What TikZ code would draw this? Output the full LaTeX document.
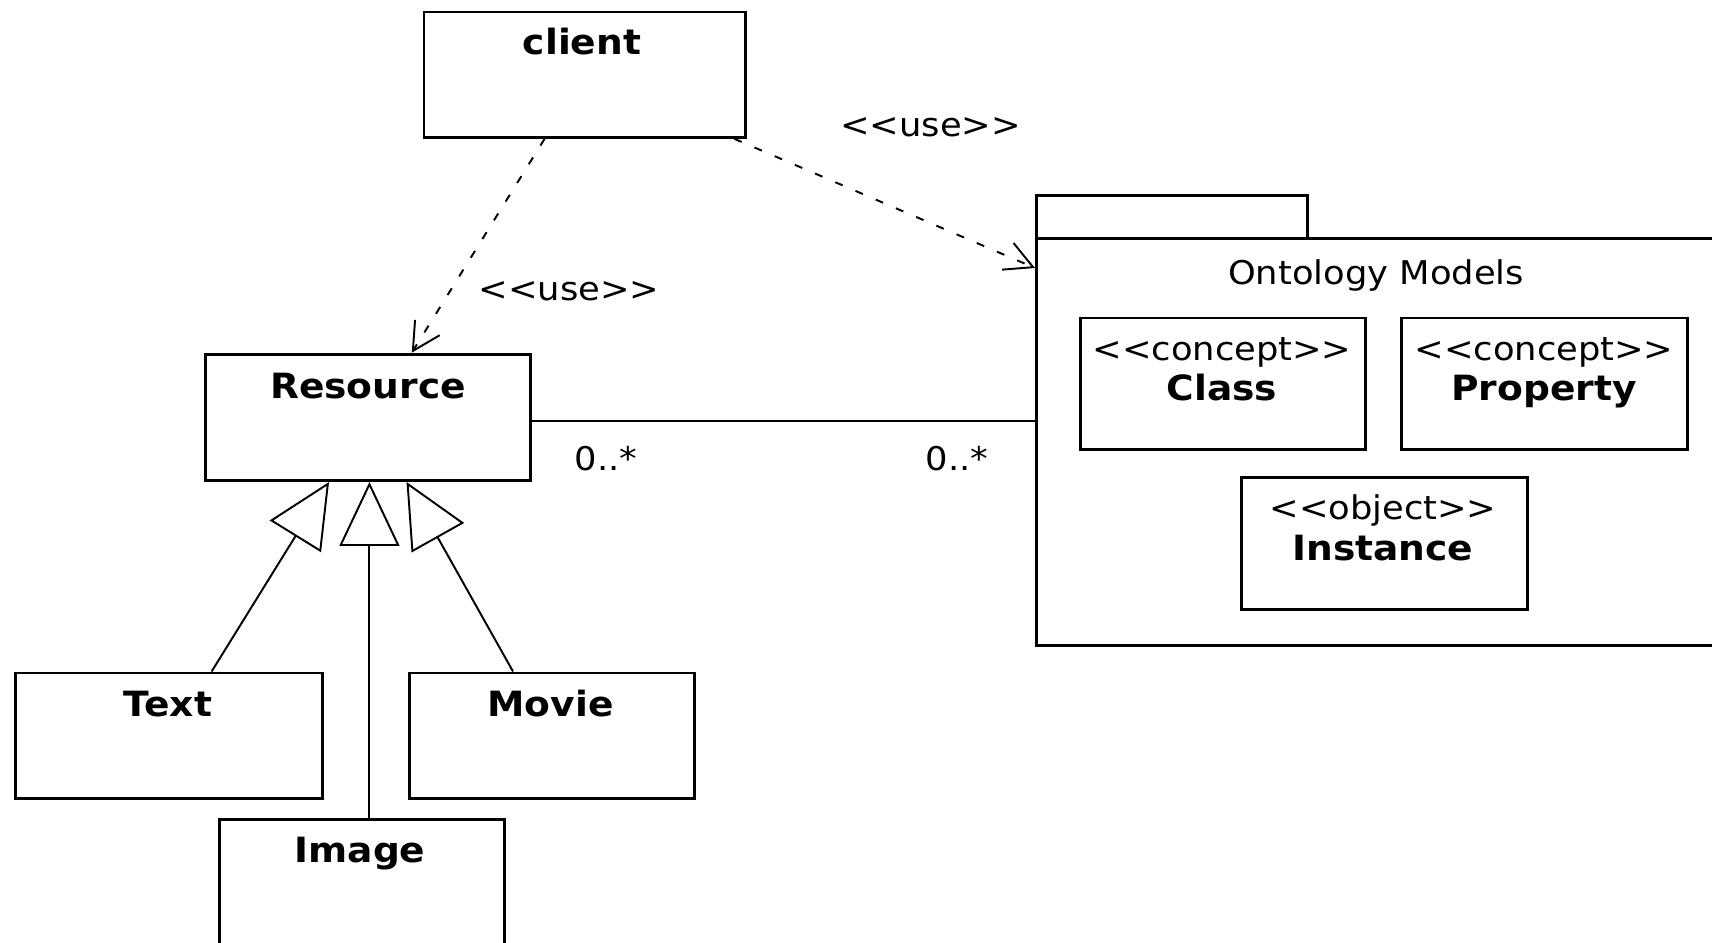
\documentclass[tikz,border=0pt]{standalone}
\usepackage{fontspec}
\setmainfont{DejaVu Sans}[FakeStretch=1.08]
\usetikzlibrary{arrows.meta,calc}
% stereotype guillemets written as doubled angle brackets
\newcommand\stereo[1]{<\kern0pt<#1>\kern0pt>}
\begin{document}
\begin{tikzpicture}[x=0.02cm,y=-0.02cm,
  umlbox/.style={draw, line width=1.6pt, inner sep=0pt, anchor=north west},
  cname/.style={font=\fontsize{19.8}{20}\selectfont\bfseries, anchor=base, inner sep=0pt},
  plain/.style={font=\fontsize{18.6}{19}\selectfont, anchor=base, inner sep=0pt},
  dep/.style={line width=1.1pt, dash pattern=on 0.16cm off 0.28cm,
    -{Straight Barb[length=0.55cm,width=0.58cm]}},
  gen/.style={line width=1.1pt, -{Triangle[open,length=1.28cm,width=1.2cm]}},
  assoc/.style={line width=1.1pt}]
\useasboundingbox (0,0) rectangle (1712,943);
\clip (0,0) rectangle (1712,943);

% classes
\node[umlbox, minimum width=6.44cm, minimum height=2.51cm] (client) at (422.5,10.5) {};
\node[cname] (clientname) at (582,54) {client};

\node[umlbox, minimum width=6.51cm, minimum height=2.53cm] (res) at (204,352.7) {};
\node[cname] (resname) at (368,398) {Resource};

\node[umlbox, minimum width=6.14cm, minimum height=2.52cm] (text) at (14,671.5) {};
\node[cname] (textname) at (168,716) {Text};

\node[umlbox, minimum width=5.70cm, minimum height=2.52cm] (movie) at (408,671.5) {};
\node[cname] (moviename) at (550.5,716) {Movie};

\node[umlbox, minimum width=5.70cm, minimum height=3.3cm] (img) at (218,818.3) {};
\node[cname] (imgname) at (360,862) {Image};

% package with its tab
\node[umlbox, minimum width=5.42cm, minimum height=0.86cm] (pkgtab) at (1035,194) {};
\node[umlbox, minimum width=14.5cm, minimum height=8.14cm] (pkg) at (1035,237) {};
\node[plain] (pkgname) at (1376,284) {Ontology Models};

\node[umlbox, minimum width=5.71cm, minimum height=2.63cm] (cls) at (1079,316.6) {};
\node[plain] (clsst) at (1222,360) {\stereo{concept}};
\node[cname] (clsname) at (1222,400) {Class};

\node[umlbox, minimum width=5.72cm, minimum height=2.63cm] (prop) at (1400,316.6) {};
\node[plain] (propst) at (1544,360) {\stereo{concept}};
\node[cname] (propname) at (1544,400) {Property};

\node[umlbox, minimum width=5.71cm, minimum height=2.64cm] (inst) at (1240.4,476) {};
\node[plain] (instst) at (1383,519) {\stereo{object}};
\node[cname] (instname) at (1383,560) {Instance};

% dependencies
\draw[dep] ($(client.south west)!0.376!(client.south east)$)
  -- ($(res.north west)!0.633!(res.north east)$);
\node[plain] (use1) at (569,300) {\stereo{use}};
\draw[dep] ($(client.south west)!0.96!(client.south east)$)
  -- ($(pkg.north west)+(0,31)$);
\node[plain] (use2) at (930.5,136) {\stereo{use}};

% association
\coordinate (aL) at ($(res.north east)+(0,68)$);
\draw[assoc] (aL) -- (aL -| pkg.west);
\node[plain] (mult1) at (606,470) {0..*};
\node[plain] (mult2) at (957,470) {0..*};

% generalizations
\coordinate (gT) at ($(res.south west)!0.381!(res.south east)$);
\coordinate (gI) at ($(res.south west)!0.504!(res.south east)$);
\coordinate (gM) at ($(res.south west)!0.617!(res.south east)$);
\draw[gen] ($(text.north west)!0.638!(text.north east)$) -- (gT);
\draw[gen] (gI |- img.north) -- (gI);
\draw[gen] ($(movie.north west)!0.365!(movie.north east)$) -- (gM);
\end{tikzpicture}
\end{document}
